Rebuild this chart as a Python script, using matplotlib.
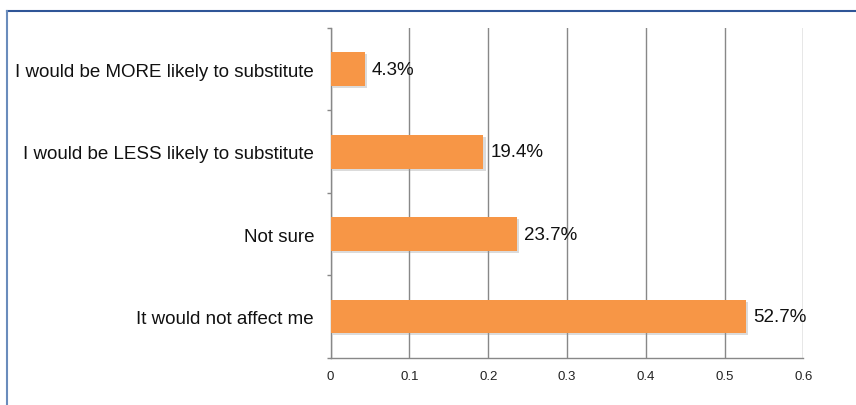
import matplotlib
matplotlib.use("Agg")
import matplotlib.pyplot as plt
import matplotlib.patheffects as pe
from matplotlib.lines import Line2D

plt.rcParams['font.family'] = ['Liberation Sans', 'DejaVu Sans']

# data, bottom to top
categories = ['It would not affect me', 'Not sure',
              'I would be LESS likely to substitute',
              'I would be MORE likely to substitute']
values = [0.527, 0.237, 0.194, 0.043]
value_labels = ['52.7%', '23.7%', '19.4%', '4.3%']
xticks = [0, 0.1, 0.2, 0.3, 0.4, 0.5, 0.6]

fig = plt.figure(figsize=(8.56, 4.06), dpi=100)
ax = fig.add_axes([0.3863, 0.1165, 0.5521, 0.8121])

pos = list(range(len(categories)))
bars = ax.barh(pos, values, height=0.41, color='#f79646', zorder=3)
for b in bars:
    b.set_path_effects([pe.SimplePatchShadow(offset=(1.5, -1.5), shadow_rgbFace='#999999', alpha=0.35),
                        pe.Normal()])

for p, v, lab in zip(pos, values, value_labels):
    ax.text(v + 0.009, p, lab, va='center', ha='left', fontsize=13.5, color='#111111', zorder=4)

ax.set_xlim(0, 0.6)
ax.set_ylim(-0.5, len(categories) - 0.5)
ax.set_xticks(xticks)
ax.set_xticklabels(['0', '0.1', '0.2', '0.3', '0.4', '0.5', '0.6'], fontsize=9.5, color='#222222')
ax.set_yticks(pos)
ax.set_yticklabels(categories, fontsize=13.5, color='#111111')
ax.tick_params(axis='y', length=0, pad=12)
ax.tick_params(axis='x', length=0, pad=9)

# category boundary ticks on the left
ax.set_yticks([p - 0.5 for p in pos] + [len(pos) - 0.5], minor=True)
ax.tick_params(axis='y', which='minor', length=3, color='#888888', width=1)

ax.set_axisbelow(True)
ax.xaxis.grid(True, color='#888888', linewidth=1)
for s in ['top', 'right']:
    ax.spines[s].set_visible(False)
for s in ['left', 'bottom']:
    ax.spines[s].set_color('#888888')
    ax.spines[s].set_linewidth(1)

# outer frame (cut off on right and bottom)
fig.add_artist(Line2D([7 / 856, 1], [1 - 12 / 406, 1 - 12 / 406], color='#2f5597', linewidth=1.5))
fig.add_artist(Line2D([7 / 856, 7 / 856], [0, 1 - 12 / 406], color='#6a8cbc', linewidth=1.5))

fig.savefig('out.png', dpi=100)
